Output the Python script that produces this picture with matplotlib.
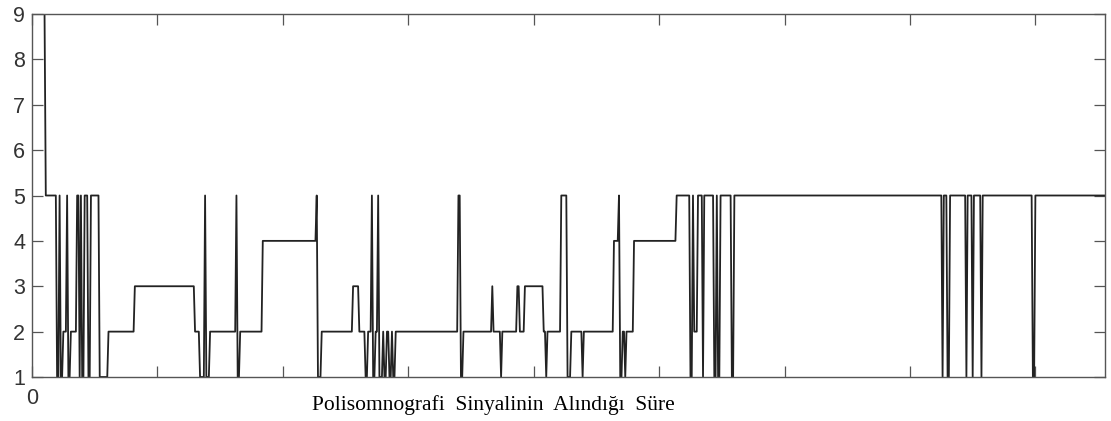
import numpy as np
import matplotlib.pyplot as plt

plt.rcParams['font.family'] = ['Liberation Sans', 'DejaVu Sans']

# uyku evreleri: her parçanın başladığı epok ve o parçadaki evre değeri
seg_start = [0, 11, 20, 22, 23, 25, 28, 29, 31, 36, 38, 39, 40, 42, 45, 47, 54, 61,
             82, 130, 134, 138, 139, 142, 163, 164, 166, 184, 227, 228, 231, 256,
             261, 266, 268, 271, 272, 274, 276, 277, 280, 281, 283, 285, 287, 288,
             290, 340, 342, 344, 367, 368, 374, 375, 387, 389, 393, 408, 410, 411,
             422, 427, 430, 439, 440, 464, 468, 469, 471, 473, 474, 480, 514, 525,
             527, 528, 531, 535, 536, 544, 546, 547, 549, 558, 560, 726, 727, 730,
             732, 745, 746, 750, 751, 757, 758, 798, 800]
seg_stage = [9, 5, 1, 5, 1, 2, 5, 1, 2, 5, 1, 5, 1, 5, 1, 5, 1, 2,
             3, 2, 1, 5, 1, 2, 5, 1, 2, 4, 5, 1, 2, 3,
             2, 1, 2, 5, 1, 2, 5, 1, 2, 1, 2, 1, 2, 1,
             2, 5, 1, 2, 3, 2, 1, 2, 3, 2, 3, 2, 1, 2,
             5, 1, 2, 1, 2, 4, 5, 1, 2, 1, 2, 4, 5, 1,
             5, 2, 5, 1, 5, 1, 5, 1, 5, 1, 5, 1, 5, 1,
             5, 1, 5, 1, 5, 1, 5, 1, 5]
n_epochs = 856

y_ticks = [1, 2, 3, 4, 5, 6, 7, 8, 9]
x_ticks = [0, 100, 200, 300, 400, 500, 600, 700, 800]
x_ticklabels = ['0', '', '', '', '', '', '', '', '']
xlabel_text = 'Polisomnografi  Sinyalinin  Alındığı  Süre'

# parçaları epok dizisine aç
lengths = np.diff(seg_start + [n_epochs])
stages = np.repeat(seg_stage, lengths)
epochs = np.arange(len(stages))

fig = plt.figure(figsize=(11.11, 4.21), dpi=100)
ax = fig.add_axes([32 / 1111, 1 - 377 / 421, 1073 / 1111, 363 / 421])
ax.plot(epochs, stages, color='#222222', lw=1.3)

ax.set_xlim(0, n_epochs - 0.5)
ax.set_ylim(1, 9)
ax.set_yticks(y_ticks)
ax.set_xticks(x_ticks)
ax.set_xticklabels(x_ticklabels)

ax.tick_params(direction='in', length=8, width=0.9, color='#555555',
               labelsize=15.5, labelcolor='#333333', top=True, right=True)
ax.tick_params(axis='y', pad=5)
ax.tick_params(axis='x', pad=8)
for sp in ax.spines.values():
    sp.set_color('#555555')
    sp.set_linewidth(1.0)

fig.text(493 / 1111, 1 - 405 / 421, xlabel_text, ha='center', va='center',
         fontsize=15.5, family=['Liberation Serif', 'DejaVu Serif'], color='black')

fig.savefig('out.png', dpi=100, facecolor='white')
